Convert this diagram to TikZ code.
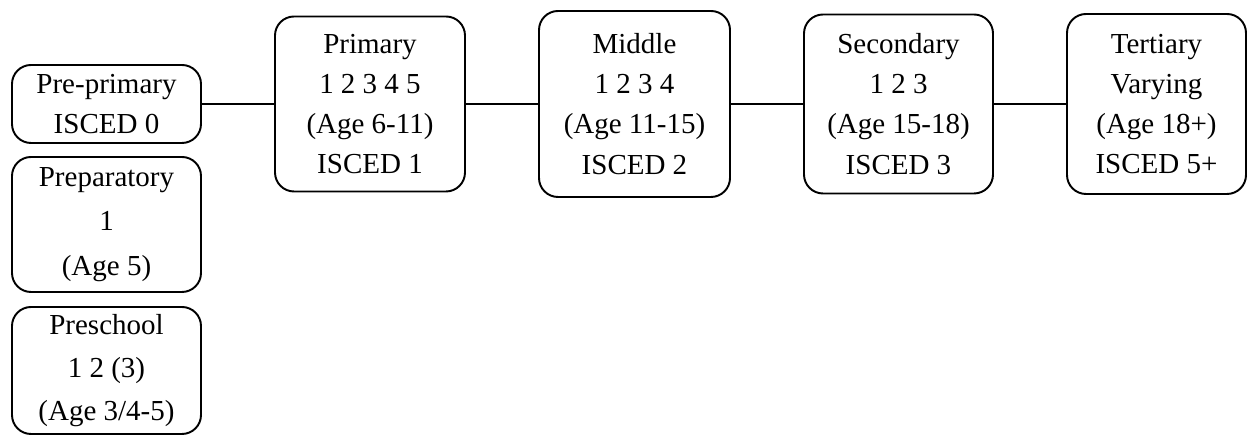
\documentclass[tikz,border=0pt]{standalone}
\usepackage{fontspec}
\setmainfont{Liberation Serif}
\usepackage{tikz}

\begin{document}
\begin{tikzpicture}[box/.style={draw, line width=1.1pt, rounded corners=0.38cm, align=center, inner sep=0pt,
                        font=\fontsize{16.5}{22.8}\selectfont}]
				\useasboundingbox (0,0) rectangle (24.96,8.76);
				% early years, stacked on the left
				\node[box, minimum width=3.78cm, minimum height=1.56cm] (prepri) at (2.13,6.68) {Pre-primary\\ISCED 0};
				\node[box, minimum width=3.78cm, minimum height=2.70cm, font=\fontsize{16.5}{25.5}\selectfont] (prep) at (2.13,4.27) {Preparatory\\1\\(Age 5)};
				\node[box, minimum width=3.78cm, minimum height=2.54cm, font=\fontsize{16.5}{24.5}\selectfont] (presch) at (2.13,1.35) {Preschool\\1 2 (3)\\(Age 3/4-5)};
				% main row
				\node[box, minimum width=3.80cm, minimum height=3.50cm] (prim) at (7.40,6.68)  {Primary\\1 2 3 4 5\\(Age 6-11)\\ISCED 1};
				\node[box, minimum width=3.82cm, minimum height=3.72cm] (mid)  at (12.69,6.68) {Middle\\1 2 3 4\\(Age 11-15)\\ISCED 2};
				\node[box, minimum width=3.78cm, minimum height=3.58cm] (sec)  at (17.97,6.68) {Secondary\\1 2 3\\(Age 15-18)\\ISCED 3};
				\node[box, minimum width=3.58cm, minimum height=3.60cm] (tert) at (23.13,6.68) {Tertiary\\Varying\\(Age 18+)\\ISCED 5+};
				\draw[line width=0.6pt] (prepri)--(prim);
				\draw[line width=0.6pt] (prim)--(mid);
				\draw[line width=0.6pt] (mid)--(sec);
				\draw[line width=0.6pt] (sec)--(tert);
			\end{tikzpicture}
\end{document}
